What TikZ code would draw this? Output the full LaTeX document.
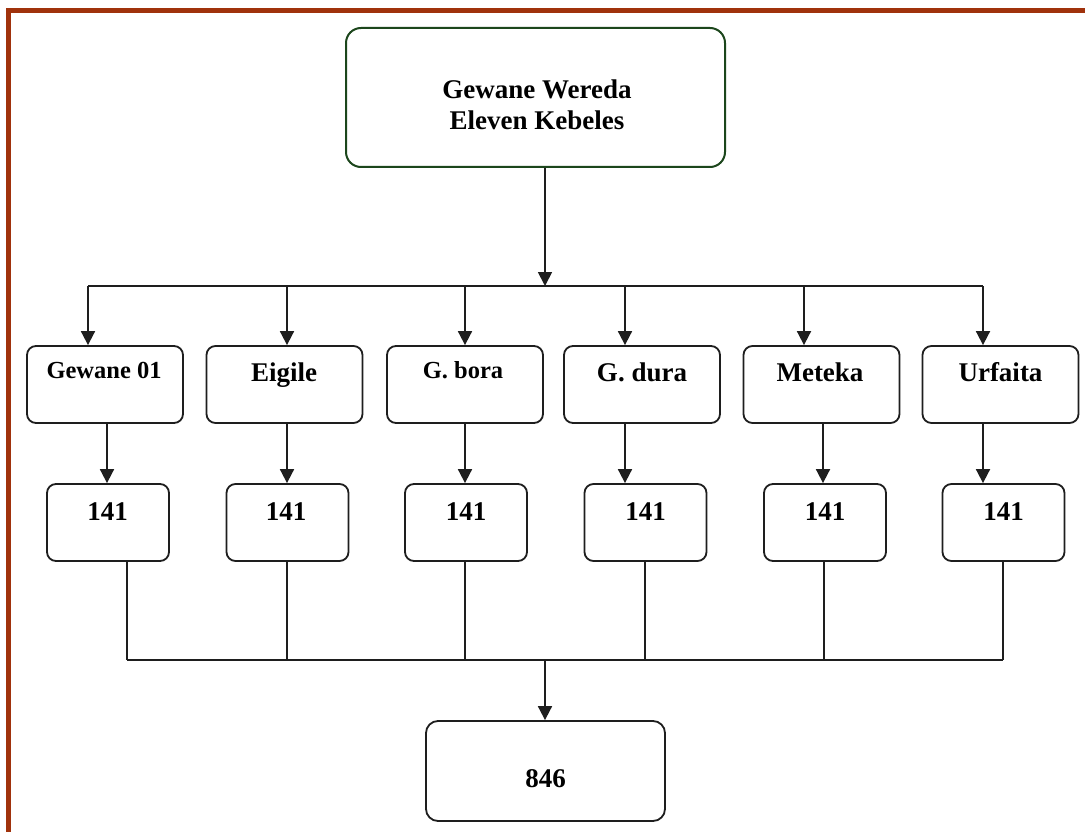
\documentclass[tikz,border=0pt]{standalone}
\usepackage{fontspec}
\setmainfont{Liberation Serif}
\usetikzlibrary{arrows.meta}
\definecolor{framebrown}{RGB}{160,50,12}
\definecolor{topgreen}{RGB}{28,70,28}
\definecolor{lineblack}{RGB}{30,30,30}
\begin{document}
\begin{tikzpicture}[x=1pt,y=-1pt,
  kbox/.style={draw=lineblack, line width=1.8pt, rounded corners=9pt, minimum width=156pt, minimum height=77pt, inner sep=0pt},
  nbox/.style={kbox, minimum width=122pt},
  lbl/.style={font=\bfseries\fontsize{27}{27}\selectfont, anchor=base, inner sep=0pt},
  lbls/.style={font=\bfseries\fontsize{24.5}{24.5}\selectfont, anchor=base, inner sep=0pt},
  conn/.style={draw=lineblack, line width=1.8pt},
  arr/.style={conn, -{Triangle[width=14pt,length=14pt]}}]
\useasboundingbox (0,0) rectangle (1085,832);
\fill[white] (0,0) rectangle (1085,832);
\draw[framebrown, line width=4.5pt] (8.5,10.5) rectangle (1110,860);

% top box
\node[draw=topgreen, line width=2pt, rounded corners=15pt, minimum width=379pt, minimum height=139pt, inner sep=0pt] (top) at (535.5,97.5) {};
\node[lbl] (topt1) at (537,98.5) {Gewane Wereda};
\node[lbl] (topt2) at (537,130) {Eleven Kebeles};

% kebele boxes
\node[kbox] (g1) at (105,384.5) {};
\node[kbox] (g2) at (284.5,384.5) {};
\node[kbox] (g3) at (465,384.5) {};
\node[kbox] (g4) at (642,384.5) {};
\node[kbox] (g5) at (821.5,384.5) {};
\node[kbox] (g6) at (1000.5,384.5) {};
\node[lbls] (g1t) at (104,378) {Gewane 01};
\node[lbl] (g2t) at (284,381.5) {Eigile};
\node[lbls] (g3t) at (463,378) {G. bora};
\node[lbl] (g4t) at (642,381.5) {G. dura};
\node[lbl] (g5t) at (820,381.5) {Meteka};
\node[lbl] (g6t) at (1000.5,381.5) {Urfaita};

% number boxes
\node[nbox] (n1) at (108,522.5) {};
\node[nbox] (n2) at (287.5,522.5) {};
\node[nbox] (n3) at (466,522.5) {};
\node[nbox] (n4) at (645.5,522.5) {};
\node[nbox] (n5) at (825,522.5) {};
\node[nbox] (n6) at (1003.5,522.5) {};
\node[lbl] (n1t) at (107.5,520) {141};
\node[lbl] (n2t) at (286,520) {141};
\node[lbl] (n3t) at (466,520) {141};
\node[lbl] (n4t) at (645.5,520) {141};
\node[lbl] (n5t) at (825,520) {141};
\node[lbl] (n6t) at (1003.5,520) {141};

% total box
\node[kbox, rounded corners=12pt, minimum width=239pt, minimum height=100pt] (tot) at (545.5,771) {};
\node[lbl] (tott) at (545.5,787) {846};

% top distribution
\coordinate (hub) at (545,286);
\coordinate (b1) at (88,286);
\coordinate (b2) at (287,286);
\coordinate (b3) at (465,286);
\coordinate (b4) at (625,286);
\coordinate (b5) at (804,286);
\coordinate (b6) at (983,286);
\draw[arr] (top.south -| hub) -- (hub);
\draw[conn] (b1) -- (b6);
\foreach \i in {1,...,6} {
  \draw[arr] (b\i) -- (b\i |- g\i.north);
}

% middle arrows
\coordinate (d1) at (107,450);
\coordinate (d2) at (287,450);
\coordinate (d3) at (465,450);
\coordinate (d4) at (625,450);
\coordinate (d5) at (823,450);
\coordinate (d6) at (983,450);
\foreach \i in {1,...,6} {
  \draw[arr] (d\i |- g\i.south) -- (d\i |- n\i.north);
}

% collection
\coordinate (u1) at (127,660);
\coordinate (u2) at (287,660);
\coordinate (u3) at (465,660);
\coordinate (u4) at (645,660);
\coordinate (u5) at (824,660);
\coordinate (u6) at (1003,660);
\coordinate (hub2) at (545,660);
\foreach \i in {1,...,6} {
  \draw[conn] (u\i |- n\i.south) -- (u\i);
}
\draw[conn] (u1) -- (u6);
\draw[arr] (hub2) -- (hub2 |- tot.north);
\end{tikzpicture}
\end{document}
